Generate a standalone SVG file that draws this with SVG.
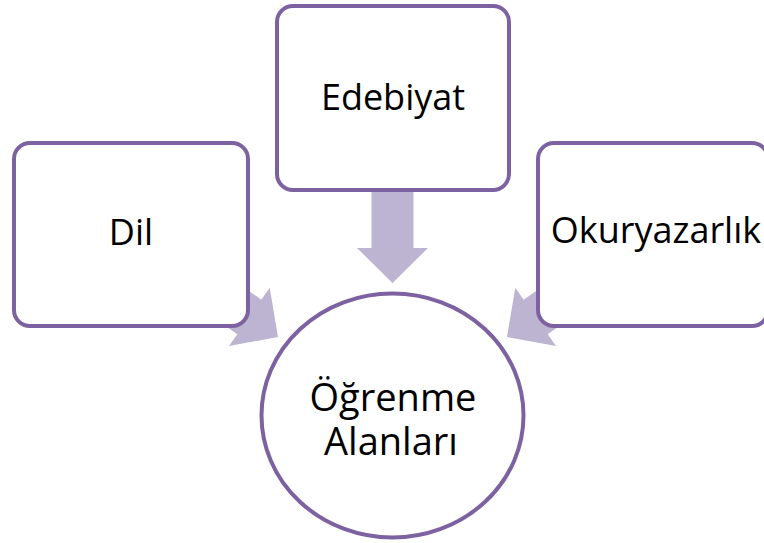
<svg xmlns="http://www.w3.org/2000/svg" width="764" height="543" viewBox="0 0 764 543">
  <style>
    .box { fill: #ffffff; stroke: #7c62a0; stroke-width: 4; }
    .arrow { fill: #bcb4d1; }
    .label { font-family: "Open Sans", "Noto Sans", sans-serif; font-size: 36px; fill: #000000; text-anchor: middle; }
    .center-label { font-size: 38px; }
  </style>
  <defs>
    <!-- block arrow pointing along +x, tip at the origin -->
    <polygon id="blockArrow" points="-100,-21 -35,-21 -35,-35.5 0,0 -35,35.5 -35,21 -100,21"/>
  </defs>

  <g id="connectors">
    <use href="#blockArrow" class="arrow" transform="translate(392.5,283) rotate(90)"/>
    <use href="#blockArrow" class="arrow" transform="translate(278,337) rotate(35)"/>
    <use href="#blockArrow" class="arrow" transform="translate(507,337) rotate(145)"/>
  </g>

  <g id="node-edebiyat">
    <rect class="box" x="277" y="6" width="232" height="184" rx="16"/>
    <text class="label" x="393" y="110">Edebiyat</text>
  </g>

  <g id="node-dil">
    <rect class="box" x="14" y="143" width="234" height="183" rx="16"/>
    <text class="label" x="131" y="245">Dil</text>
  </g>

  <g id="node-okuryazarlik">
    <rect class="box" x="538" y="143" width="230" height="183" rx="16"/>
    <text class="label" x="656" y="243">Okuryazarlık</text>
  </g>

  <g id="node-ogrenme-alanlari">
    <ellipse class="box" cx="392.5" cy="415.5" rx="131" ry="122"/>
    <text class="label center-label"><tspan x="393" y="411">Öğrenme</tspan><tspan x="391" y="455">Alanları</tspan></text>
  </g>
</svg>
